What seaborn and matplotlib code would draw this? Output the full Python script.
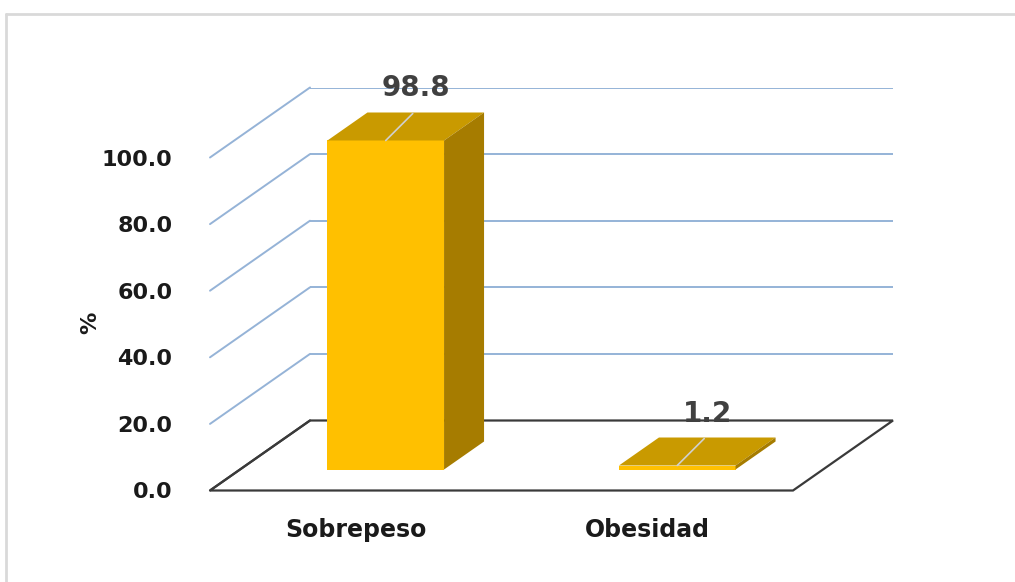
import numpy as np
import pandas as pd
import matplotlib
matplotlib.use("Agg")
import matplotlib.pyplot as plt
import matplotlib.transforms as mtransforms
from matplotlib.patches import Polygon
from matplotlib.lines import Line2D
import seaborn as sns

# ---------------- data ----------------
categories = ["Sobrepeso", "Obesidad"]
values = [98.8, 1.2]
value_labels = ["98.8", "1.2"]
y_ticks = [0, 20, 40, 60, 80, 100]
y_tick_labels = ["0.0", "20.0", "40.0", "60.0", "80.0", "100.0"]
y_label = "%"

# ---------------- style ----------------
sns.set_theme(style="white")
plt.rcParams['font.family'] = ['DejaVu Sans']

FRONT_C = "#FFC000"
TOP_C = "#C99A00"
SIDE_C = "#A67C00"
GRID_C = "#95B3D7"
FLOOR_C = "#3A3A3A"
LABEL_C = "#404040"

W, H = 1015, 582
fig = plt.figure(figsize=(W / 100, H / 100), dpi=100)

# layout in image pixels (y downward)
X0, Y0 = 210, 490.5
FW = 583
PX_PER_UNIT = 3.33
YMAX = 100
DEPTH_DX, DEPTH_DY = 100, 70
BAR_D0, BAR_D1 = 0.3, 0.7


def rect_at_depth(d):
    left = X0 + DEPTH_DX * d
    bottom_img = Y0 - DEPTH_DY * d
    return [left / W, 1 - bottom_img / H, FW / W, YMAX * PX_PER_UNIT / H]


ax_back = fig.add_axes(rect_at_depth(1.0), zorder=0)
ax_front = fig.add_axes(rect_at_depth(0.0), zorder=1)
ax_bar = fig.add_axes(rect_at_depth(BAR_D0), zorder=3)

df = pd.DataFrame({"category": categories, "value": values})
sns.barplot(data=df, x="category", y="value", ax=ax_bar, color=FRONT_C,
            saturation=1, width=0.4, linewidth=0)

for ax in (ax_back, ax_front, ax_bar):
    ax.set_xlim(-0.5, 1.5)
    ax.set_ylim(0, YMAX)
    ax.patch.set_alpha(0)
    for s in ax.spines.values():
        s.set_visible(False)
ax_back.set_xticks([]); ax_back.set_yticks([])
ax_bar.set_xticks([]); ax_bar.set_yticks([])
ax_bar.set_xlabel(""); ax_bar.set_ylabel("")

# back wall gridlines
for t in y_ticks[1:]:
    ax_back.axhline(t, color=GRID_C, lw=1.4, zorder=1)

ident = mtransforms.IdentityTransform()

# side-wall diagonals and floor
for t in y_ticks:
    p0 = ax_front.transData.transform((-0.5, t))
    p1 = ax_back.transData.transform((-0.5, t))
    c = FLOOR_C if t == 0 else GRID_C
    fig.add_artist(Line2D([p0[0], p1[0]], [p0[1], p1[1]], color=c,
                          lw=1.6 if t == 0 else 1.4, transform=ident, zorder=1))

fl = ax_front.transData.transform((-0.5, 0))
fr = ax_front.transData.transform((1.5, 0))
br = ax_back.transData.transform((1.5, 0))
bl = ax_back.transData.transform((-0.5, 0))
fig.add_artist(Polygon([fl, fr, br, bl], closed=True, facecolor="none",
                       edgecolor=FLOOR_C, lw=1.6, transform=ident, zorder=1))

# 3D faces, leaders and value labels
off = np.array([(BAR_D1 - BAR_D0) * DEPTH_DX, (BAR_D1 - BAR_D0) * DEPTH_DY])
T = ax_bar.transData
for patch, lab in zip(ax_bar.patches, value_labels):
    x0, w, h = patch.get_x(), patch.get_width(), patch.get_height()
    tl = T.transform((x0, h)); tr = T.transform((x0 + w, h))
    brp = T.transform((x0 + w, 0))
    fig.add_artist(Polygon([tl, tr, tr + off, tl + off], closed=True,
                           facecolor=TOP_C, edgecolor="none", transform=ident, zorder=4))
    fig.add_artist(Polygon([brp, tr, tr + off, brp + off], closed=True,
                           facecolor=SIDE_C, edgecolor="none", transform=ident, zorder=4))
    c = T.transform((x0 + w / 2, h))
    fig.add_artist(Line2D([c[0], c[0] + 27], [c[1], c[1] + 27], color="#D0D0D0",
                          lw=1.2, transform=ident, zorder=5))
    fig.text(c[0] + 30, c[1] + 52, lab, transform=ident, ha="center", va="center",
             fontsize=20, fontweight="bold", color=LABEL_C, zorder=6)

# front axis ticks
ax_front.set_yticks(y_ticks, y_tick_labels)
ax_front.set_xticks(range(len(categories)), categories)
ax_front.tick_params(axis="y", length=0, pad=27, labelsize=16, labelcolor="#1A1A1A")
ax_front.tick_params(axis="x", length=0, pad=20, labelsize=17, labelcolor="#1A1A1A")
for lbl in ax_front.get_yticklabels() + ax_front.get_xticklabels():
    lbl.set_fontweight("bold")

fig.text(90 / W, 1 - 323 / H, y_label, rotation=90, ha="center", va="center",
         fontsize=16, fontweight="bold", color="#1A1A1A")

# outer chart border (top and left visible)
fig.add_artist(Line2D([6 / W, 1.0], [1 - 14 / H, 1 - 14 / H], color="#D9D9D9",
                      lw=2, transform=fig.transFigure))
fig.add_artist(Line2D([6 / W, 6 / W], [1 - 14 / H, 0.0], color="#D9D9D9",
                      lw=2, transform=fig.transFigure))

fig.savefig("out.png", dpi=100)
